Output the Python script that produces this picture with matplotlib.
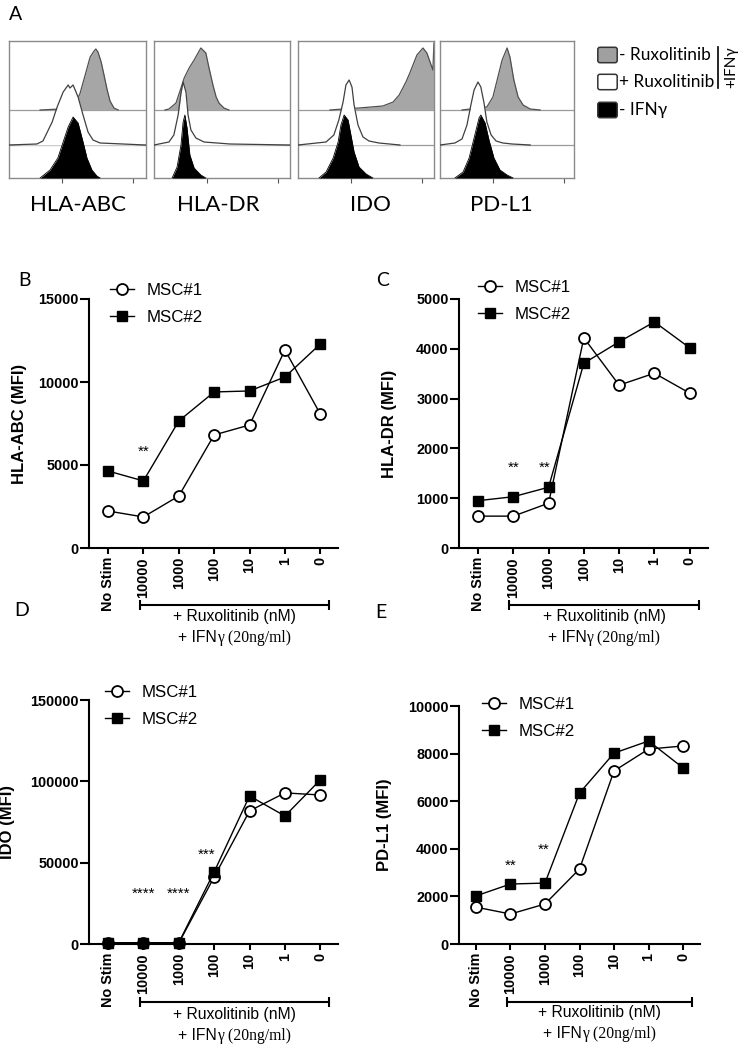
import matplotlib
matplotlib.use('Agg')
import matplotlib.pyplot as plt
import numpy as np
from matplotlib.patches import FancyBboxPatch
from matplotlib.ticker import LogLocator, NullFormatter

W, H, DPI = 738, 1050, 100

# ---------------- DATA ----------------
hist_names = ['HLA-ABC', 'HLA-DR', 'IDO', 'PD-L1']

# flow histograms: x = log10 fluorescence, y = height above own baseline
abc_gray_x = [2.39, 2.95, 3.23, 3.37, 3.51, 3.66, 3.80, 3.91, 3.96, 4.02, 4.11, 4.19, 4.28, 4.36, 4.47, 4.59]
abc_gray_y = [0, 1, 3, 6, 16, 35, 53, 59, 61, 58, 48, 35, 20, 9, 2, 0]
abc_open_x = [1.50, 2.30, 2.47, 2.73, 2.87, 3.04, 3.18, 3.23, 3.32, 3.46, 3.60, 3.74, 3.88, 4.08, 5.36]
abc_open_y = [0, 1, 4, 23, 38, 53, 60, 57, 60, 48, 30, 13, 5, 2, 0]
abc_black_x = [2.39, 2.67, 2.89, 3.04, 3.18, 3.32, 3.46, 3.60, 3.71, 3.85, 3.99, 4.08]
abc_black_y = [0, 8, 20, 36, 51, 61, 55, 36, 20, 8, 2, 0]

dr_gray_x = [1.81, 1.92, 2.12, 2.26, 2.35, 2.49, 2.63, 2.82, 2.96, 3.05, 3.16, 3.25, 3.33, 3.47, 3.61]
dr_gray_y = [0, 1, 7, 22, 32, 42, 50, 62, 57, 42, 25, 13, 7, 2, 0]
dr_open_x = [1.50, 1.92, 2.06, 2.18, 2.26, 2.32, 2.40, 2.46, 2.54, 2.68, 2.91, 3.64, 5.33]
dr_open_y = [0, 3, 10, 30, 52, 63, 53, 30, 15, 7, 3, 1, 0]
dr_black_x = [2.01, 2.15, 2.26, 2.32, 2.37, 2.43, 2.51, 2.63, 2.82, 2.96]
dr_black_y = [0, 11, 33, 56, 63, 50, 23, 10, 3, 0]

ido_gray_x = [2.40, 2.77, 3.22, 3.89, 4.18, 4.35, 4.54, 4.65, 4.85, 5.02, 5.13, 5.22, 5.30, 5.33]
ido_gray_y = [0, 1, 2, 4, 8, 15, 28, 37, 55, 62, 57, 48, 40, 67]
ido_open_x = [1.50, 2.29, 2.51, 2.65, 2.77, 2.85, 2.94, 3.02, 3.08, 3.19, 3.33, 3.50, 3.78, 4.37]
ido_open_y = [0, 3, 10, 25, 43, 60, 65, 58, 40, 20, 8, 4, 2, 0]
ido_black_x = [2.09, 2.29, 2.49, 2.63, 2.71, 2.80, 2.91, 2.99, 3.08, 3.22, 3.42, 3.61]
ido_black_y = [0, 6, 20, 36, 53, 63, 58, 43, 26, 11, 4, 0]

pdl1_gray_x = [2.12, 2.82, 2.99, 3.11, 3.25, 3.39, 3.47, 3.58, 3.70, 3.84, 4.04, 4.32]
pdl1_gray_y = [0, 3, 13, 30, 50, 62, 53, 30, 13, 5, 1, 0]
pdl1_open_x = [1.50, 1.92, 2.12, 2.26, 2.37, 2.46, 2.57, 2.65, 2.74, 2.82, 2.94, 3.08, 3.27, 3.53, 4.04]
pdl1_open_y = [0, 2, 6, 20, 40, 55, 63, 58, 42, 23, 10, 4, 2, 1, 0]
pdl1_black_x = [1.92, 2.15, 2.32, 2.46, 2.60, 2.65, 2.77, 2.88, 3.02, 3.19, 3.39, 3.56]
pdl1_black_y = [0, 6, 20, 40, 60, 63, 55, 38, 20, 8, 3, 0]

categories = ['No Stim', '10000', '1000', '100', '10', '1', '0']
abc_msc1 = [2230, 1870, 3130, 6810, 7410, 11930, 8070]
abc_msc2 = [4640, 4040, 7650, 9400, 9460, 10300, 12290]
dr_msc1 = [640, 640, 900, 4220, 3270, 3510, 3110]
dr_msc2 = [950, 1030, 1220, 3710, 4140, 4540, 4020]
ido_msc1 = [600, 600, 600, 41200, 81800, 92900, 91600]
ido_msc2 = [800, 800, 800, 44300, 91000, 78700, 100900]
pdl1_msc1 = [1550, 1260, 1680, 3150, 7270, 8190, 8320]
pdl1_msc2 = [2020, 2520, 2560, 6340, 8020, 8530, 7400]

abc_sig = [(1, 6080, '**')]
dr_sig = [(1, 1707, '**'), (1.9, 1707, '**')]
ido_sig = [(1, 33800, '****'), (2, 33800, '****'), (2.8, 57800, '***')]
pdl1_sig = [(1, 3490, '**'), (1.97, 4160, '**')]

series_labels = ['MSC#1', 'MSC#2']
legendA_labels = ['- Ruxolitinib', '+ Ruxolitinib', '- IFN\u03b3']

# ---------------- FIGURE ----------------
CAL = ['Lato', 'DejaVu Sans']
ARI = ['Liberation Sans', 'DejaVu Sans']
SER = ['Liberation Serif', 'DejaVu Serif']

fig = plt.figure(figsize=(W / DPI, H / DPI), dpi=DPI)
fig.patch.set_facecolor('white')
ov = fig.add_axes([0, 0, 1, 1], zorder=-5)
ov.set_xlim(0, W)
ov.set_ylim(H, 0)
ov.axis('off')


def px_axes(l, t, r, b):
    return fig.add_axes([l / W, 1 - b / H, (r - l) / W, (b - t) / H])


# ---------- Panel A : histograms ----------
boxes = [(8.5, 146), (154, 290), (298, 434), (440, 574)]
hist_sets = [
    (abc_gray_x, abc_gray_y, abc_open_x, abc_open_y, abc_black_x, abc_black_y),
    (dr_gray_x, dr_gray_y, dr_open_x, dr_open_y, dr_black_x, dr_black_y),
    (ido_gray_x, ido_gray_y, ido_open_x, ido_open_y, ido_black_x, ido_black_y),
    (pdl1_gray_x, pdl1_gray_y, pdl1_open_x, pdl1_open_y, pdl1_black_x, pdl1_black_y),
]
label_cx = [78, 218, 370, 501]
TOP, BOT = 41, 178
DEC = 35.5
base_gray, base_open = 68, 33
for (l, r), hs, name, cx in zip(boxes, hist_sets, hist_names, label_cx):
    ax = px_axes(l, TOP, r, BOT)
    ax.set_facecolor('none')
    ax.set_xscale('log')
    ax.set_xlim(10 ** 1.5, 10 ** (1.5 + (r - l) / DEC))
    ax.set_ylim(0, BOT - TOP)
    gx, gy, ox, oy, bx, by = [np.asarray(a, float) for a in hs]
    for yb in (base_gray, base_open):
        ax.axhline(yb, color='#9a9a9a', lw=0.9, zorder=1)
    ax.fill_between(10 ** gx, base_gray, base_gray + gy, color='#a6a6a6', lw=0, zorder=2)
    ax.plot(10 ** gx, base_gray + gy, color='#505050', lw=0.9, zorder=2.1)
    ax.fill_between(10 ** ox, base_open, base_open + oy, color='white', lw=0, zorder=3)
    ax.plot(10 ** ox, base_open + oy, color='#404040', lw=0.9, zorder=3.1)
    ax.fill_between(10 ** bx, 0, by, color='black', lw=0, zorder=4)
    ax.plot(10 ** bx, by, color='black', lw=0.6, zorder=4.1)
    for s in ax.spines.values():
        s.set_color('#8a8a8a')
        s.set_linewidth(1.0)
    ax.yaxis.set_visible(False)
    ax.xaxis.set_major_locator(LogLocator(base=10))
    ax.xaxis.set_minor_locator(LogLocator(base=10, subs=np.arange(2, 10)))
    ax.xaxis.set_major_formatter(NullFormatter())
    ax.xaxis.set_minor_formatter(NullFormatter())
    ax.tick_params(axis='x', which='major', direction='out', length=3.5, width=0.8, color='#555555')
    ax.tick_params(axis='x', which='minor', direction='out', length=2.0, width=0.6, color='#666666')
    ov.text(cx, 205, name, ha='center', va='center', fontsize=16, family=CAL)

# legend of panel A
legA_y = [55, 82, 110]
legA_fc = ['#a0a0a0', 'white', 'black']
for yc, fc, lab in zip(legA_y, legA_fc, legendA_labels):
    ov.add_patch(FancyBboxPatch((600, yc - 5.5), 15, 11, boxstyle='round,pad=2.2',
                                fc=fc, ec='#333333', lw=1.1))
    ov.text(619, yc, lab, ha='left', va='center', fontsize=12.4, family=CAL)
ov.plot([718, 718], [47, 88], color='black', lw=1.2)
ov.text(731, 67, '+IFN\u03b3', rotation=90, ha='center', va='center', fontsize=11, family=CAL)

# panel letters
for letter, (x, y) in zip('ABCDE', [(16, 14), (25, 280), (383, 281), (22, 610), (381, 612)]):
    ov.text(x, y, letter, ha='center', va='center', fontsize=14, family=CAL)

# ---------- line panels ----------
panels = [
    dict(rect=(89, 299, 338, 548), xlim=(-0.537, 6.50), ylim=(0, 15000), yticks=[0, 5000, 10000, 15000],
         d1=abc_msc1, d2=abc_msc2, sig=abc_sig, ylabel='HLA-ABC (MFI)', labx=-0.249,
         leg=(0.084, 1.064), br=(140, 329, 605), tx=(617, 637)),
    dict(rect=(459, 299, 708, 548), xlim=(-0.54, 6.52), ylim=(0, 5000), yticks=[0, 1000, 2000, 3000, 4000, 5000],
         d1=dr_msc1, d2=dr_msc2, sig=dr_sig, ylabel='HLA-DR (MFI)', labx=-0.249,
         leg=(0.076, 1.076), br=(509, 699, 605), tx=(617, 637)),
    dict(rect=(89, 700, 338, 944), xlim=(-0.537, 6.50), ylim=(0, 150000), yticks=[0, 50000, 100000, 150000],
         d1=ido_msc1, d2=ido_msc2, sig=ido_sig, ylabel='IDO (MFI)', labx=-0.297,
         leg=(0.064, 1.061), br=(140, 329, 1002), tx=(1015, 1035)),
    dict(rect=(459, 706, 700, 944), xlim=(-0.49, 6.49), ylim=(0, 10000), yticks=[0, 2000, 4000, 6000, 8000, 10000],
         d1=pdl1_msc1, d2=pdl1_msc2, sig=pdl1_sig, ylabel='PD-L1 (MFI)', labx=-0.278,
         leg=(0.095, 1.038), br=(507, 692, 1002), tx=(1013, 1033)),
]

renderer = fig.canvas.get_renderer()
for p in panels:
    ax = px_axes(*p['rect'])
    ax.set_facecolor('none')
    x = np.arange(len(categories))
    ax.plot(x, p['d1'], '-o', color='black', mfc='white', mec='black', ms=7.9, mew=1.3, lw=1.0,
            label=series_labels[0], zorder=3, clip_on=False)
    ax.plot(x, p['d2'], '-s', color='black', mfc='black', mec='black', ms=7.0, lw=1.0,
            label=series_labels[1], zorder=4, clip_on=False)
    ax.set_xlim(*p['xlim'])
    ax.set_ylim(*p['ylim'])
    ax.set_yticks(p['yticks'])
    ax.set_yticklabels([str(v) for v in p['yticks']], fontsize=10.4, fontweight='bold', family=ARI)
    ax.set_xticks(x)
    ax.set_xticklabels(categories, rotation=90, fontsize=10.4, fontweight='bold', family=ARI)
    for s in ('top', 'right'):
        ax.spines[s].set_visible(False)
    for s in ('left', 'bottom'):
        ax.spines[s].set_linewidth(1.5)
    ax.tick_params(axis='y', direction='out', length=6.5, width=1.5, pad=1)
    ax.tick_params(axis='x', direction='out', length=4.5, width=1.5, pad=2)
    ax.set_ylabel(p['ylabel'], fontsize=12, fontweight='bold', family=ARI)
    ax.yaxis.set_label_coords(p['labx'], 0.5)
    for (sx, sy, st) in p['sig']:
        ax.annotate(st, (sx, sy), xytext=(0, -3.5), textcoords='offset points', ha='center', va='center',
                    fontsize=11, family=ARI)
    ax.legend(loc='upper left', bbox_to_anchor=p['leg'], frameon=False, prop={'family': ARI, 'size': 12.2},
              handlelength=1.4, handletextpad=0.75, labelspacing=0.7, borderaxespad=0, borderpad=0)
    # bracket
    x0, x1, yb = p['br']
    ov.plot([x0, x1], [yb, yb], color='black', lw=1.5, solid_capstyle='butt')
    ov.plot([x0, x0], [yb - 5, yb + 5], color='black', lw=1.5, solid_capstyle='butt')
    ov.plot([x1, x1], [yb - 5, yb + 5], color='black', lw=1.5, solid_capstyle='butt')
    cx = (x0 + x1) / 2
    ov.text(cx, p['tx'][0], '+ Ruxolitinib (nM)', ha='center', va='center', fontsize=11.3, family=ARI)
    t1 = ov.text(cx, p['tx'][1] + 5, '+ IFN', ha='right', va='baseline', fontsize=11.3, family=ARI)
    t2 = ov.text(cx, p['tx'][1] + 5, '\u03b3 (20ng/ml)', ha='left', va='baseline', fontsize=11.3, family=SER)
    w1 = t1.get_window_extent(renderer).width
    w2 = t2.get_window_extent(renderer).width
    t1.set_x(cx + (w1 - w2) / 2)
    t2.set_x(cx + (w1 - w2) / 2)

fig.savefig('out.png', dpi=DPI, facecolor='white')
